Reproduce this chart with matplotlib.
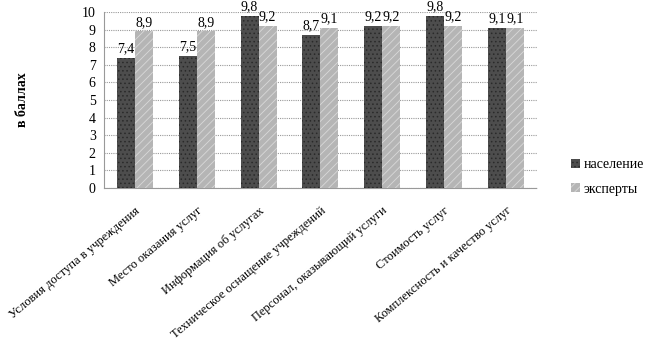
import matplotlib
matplotlib.use("Agg")
import matplotlib.pyplot as plt
from matplotlib import font_manager
import numpy as np

names = sorted({f.name for f in font_manager.fontManager.ttflist})
serif_opts = [n for n in ['Liberation Serif', 'Times New Roman', 'DejaVu Serif'] if n in names]
plt.rcParams['font.family'] = serif_opts + ['DejaVu Sans']
plt.rcParams['hatch.linewidth'] = 0.6

categories = ["Условия доступа в учреждения", "Место оказания услуг", "Информация об услугах",
              "Техническое оснащение учреждений", "Персонал, оказывающий услуги",
              "Стоимость услуг", "Комплексность и качество услуг"]
population = [7.4, 7.5, 9.8, 8.7, 9.2, 9.8, 9.1]
experts = [8.9, 8.9, 9.2, 9.1, 9.2, 9.2, 9.1]
series_names = ["население", "эксперты"]
yticks = list(range(0, 11))

fig = plt.figure(figsize=(6.46, 3.54), dpi=100)
ax = fig.add_axes([0.161, 0.469, 0.670, 0.497])

x = np.arange(len(categories))
w = 0.29
b1 = ax.bar(x - w/2, population, w, color='#4d4d4d', edgecolor='#2a2a2a', hatch='....', linewidth=0, label=series_names[0], zorder=3)
b2 = ax.bar(x + w/2, experts, w, color='#b5b5b5', edgecolor='#d8d8d8', hatch='////', linewidth=0, label=series_names[1], zorder=3)

for bars, vals in ((b1, population), (b2, experts)):
    for r, v in zip(bars, vals):
        ax.text(r.get_x() + r.get_width()/2, v + 0.15, f"{v:.1f}".replace('.', ','),
                ha='center', va='bottom', fontsize=10)

ax.set_ylim(0, 10)
ax.set_xlim(-0.5, len(categories) - 0.5)
ax.set_yticks(yticks)
ax.set_yticklabels([str(t) for t in yticks], fontsize=10)
ax.yaxis.grid(True, color='#999999', linestyle=(0, (1, 1)), linewidth=0.8, zorder=0)
ax.set_xticks(x)
ax.set_xticklabels(categories, rotation=40, ha='right', rotation_mode='anchor', fontsize=9)
ax.tick_params(axis='x', length=0, pad=12)
ax.tick_params(axis='y', length=0, pad=6)
for s in ['top', 'right']:
    ax.spines[s].set_visible(False)
for s in ['left', 'bottom']:
    ax.spines[s].set_color('#999999')
    ax.spines[s].set_linestyle((0, (1, 1)))
    ax.spines[s].set_linewidth(0.8)

ax.set_ylabel("в баллах", fontsize=10, fontweight='bold', labelpad=38)

fig.legend(handles=[b1, b2], labels=series_names, loc='center left',
           bbox_to_anchor=(0.865, 0.50), frameon=False, fontsize=10,
           handlelength=0.6, handleheight=0.6, handletextpad=0.3, labelspacing=0.8)

fig.savefig("out.png", dpi=100)
